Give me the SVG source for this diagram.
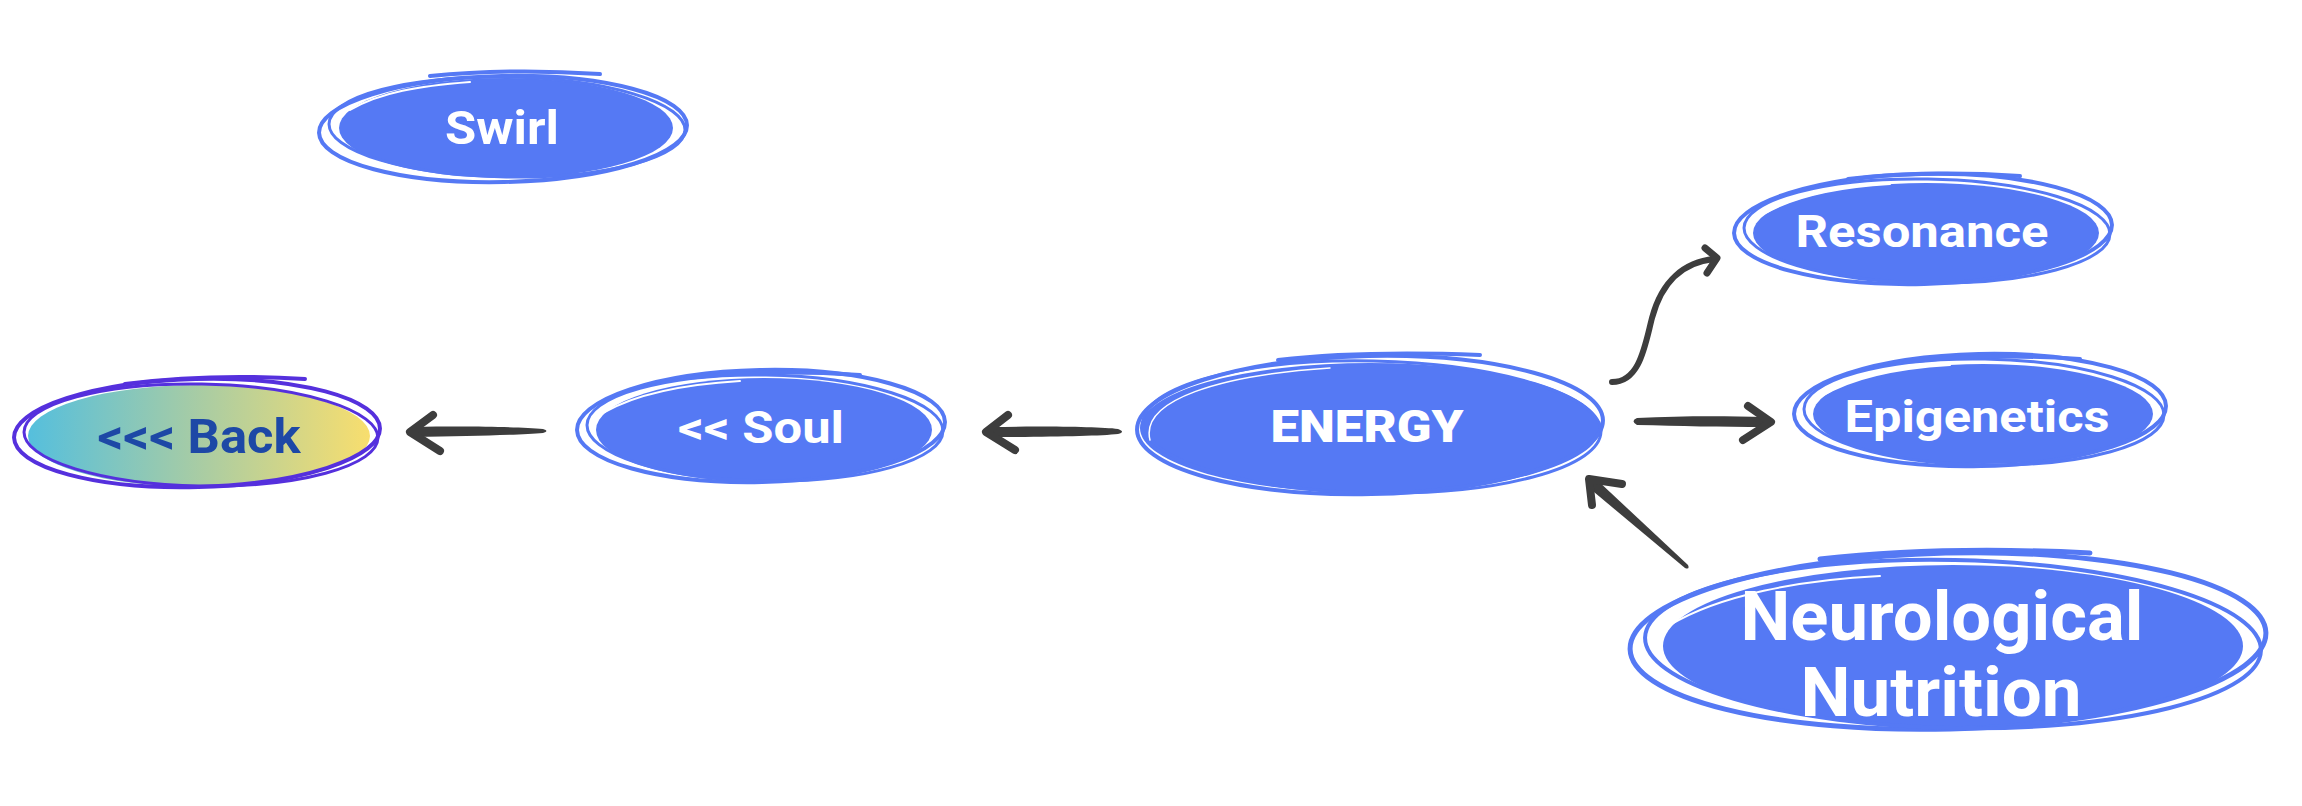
<svg xmlns="http://www.w3.org/2000/svg" width="2302" height="806" viewBox="0 0 2302 806">
<defs>
<linearGradient id="backGrad" x1="0" y1="0" x2="1" y2="0">
<stop offset="0" stop-color="#55bfdd"/>
<stop offset="0.5" stop-color="#a8cca4"/>
<stop offset="1" stop-color="#f8de6e"/>
</linearGradient>
<style>
.fill{fill:#5579f4}
.sk{fill:none;stroke:#5579f4;stroke-width:4;stroke-linecap:round}
.sk2{fill:none;stroke:#5579f4;stroke-width:3;stroke-linecap:round}
.wl{fill:none;stroke:#ffffff;stroke-width:2;stroke-linecap:round}
.bsk{fill:none;stroke:#5530dd;stroke-width:4;stroke-linecap:round}
.bsk2{fill:none;stroke:#5530dd;stroke-width:3;stroke-linecap:round}
.lbl{font-family:Roboto,"Noto Sans",sans-serif;font-weight:700;fill:#ffffff;text-anchor:middle}
.shaft{fill:#3d3d3d}
.head{fill:none;stroke:#3d3d3d;stroke-width:8;stroke-linecap:round;stroke-linejoin:round}
.curve{fill:none;stroke:#3d3d3d;stroke-width:6;stroke-linecap:round}
</style>
</defs>
<rect width="2302" height="806" fill="#ffffff"/>

<g id="connectors">
<!-- Soul -> Back -->
<path class="shaft" d="M414,427 C470,426 520,427 543,429 Q550,431 543,433 C520,435 470,436 414,437 Z"/>
<polyline class="head" points="433,415 410,432 440,451"/>
<!-- ENERGY -> Soul -->
<path class="shaft" d="M990,427 C1050,426 1100,427 1118,429 Q1126,432 1118,434 C1100,436 1050,437 990,437 Z"/>
<polyline class="head" points="1008,415 986,432 1015,450"/>
<!-- ENERGY -> Resonance -->
<path class="curve" d="M1612,382 C1640,382 1645,345 1652,318 C1662,280 1685,262 1714,259"/>
<polyline class="head" points="1705,248 1717,258 1707,273" style="stroke-width:7"/>
<!-- ENERGY -> Epigenetics -->
<path class="shaft" d="M1637,418 C1680,416 1720,416 1766,417 L1766,427 C1720,427 1680,426 1637,425 Q1630,421 1637,418 Z"/>
<polyline class="head" points="1748,406 1771,422 1743,440"/>
<!-- Neurological Nutrition -> ENERGY -->
<path class="shaft" d="M1596,479 L1688,565 Q1690,570 1685,568 L1588,487 Z"/>
<polyline class="head" points="1622,484 1589,479 1592,505"/>
</g>

<g id="node-swirl">
<ellipse class="fill" cx="506" cy="128" rx="167" ry="50"/>
<ellipse class="sk" cx="503" cy="129" rx="184" ry="53" transform="rotate(-1.2 503 129)"/>
<ellipse class="sk2" cx="507" cy="127" rx="178" ry="50" transform="rotate(1 507 127)"/>
<path class="sk" d="M430,76 C480,71 540,70 600,74"/>
<path class="wl" d="M350,110 C380,92 420,86 470,82"/>
<text class="lbl" x="502" y="144" font-size="46" textLength="114" lengthAdjust="spacingAndGlyphs">Swirl</text>
</g>

<g id="node-back">
<ellipse cx="199" cy="436" rx="171" ry="51" fill="url(#backGrad)"/>
<ellipse class="bsk" cx="197" cy="433" rx="183" ry="54" transform="rotate(-1.5 197 433)"/>
<ellipse class="bsk2" cx="201" cy="435" rx="177" ry="51" transform="rotate(1 201 435)"/>
<path class="bsk" d="M125,384 C180,377 240,375 305,379"/>
<text class="lbl" x="199" y="453" font-size="49" textLength="203" lengthAdjust="spacingAndGlyphs" style="fill:#1d48a6">&lt;&lt;&lt; Back</text>
</g>

<g id="node-soul">
<ellipse class="fill" cx="764" cy="430" rx="168" ry="52"/>
<ellipse class="sk" cx="761" cy="426" rx="184" ry="56" transform="rotate(-1.3 761 426)"/>
<ellipse class="sk2" cx="765" cy="428" rx="178" ry="53" transform="rotate(1 765 428)"/>
<path class="sk" d="M688,378 C740,372 800,371 860,375"/>
<path class="wl" d="M605,412 C640,392 690,384 740,381"/>
<text class="lbl" x="761" y="443" font-size="45" textLength="166" lengthAdjust="spacingAndGlyphs">&lt;&lt; Soul</text>
</g>

<g id="node-energy">
<ellipse class="fill" cx="1370" cy="428" rx="230" ry="65"/>
<ellipse class="sk" cx="1370" cy="425" rx="233" ry="69" transform="rotate(-1.2 1370 425)"/>
<ellipse class="sk2" cx="1372" cy="427" rx="229" ry="66" transform="rotate(1.2 1372 427)"/>
<path class="sk" d="M1278,360 C1330,354 1400,352 1480,355"/>
<path class="wl" d="M1150,440 C1140,400 1220,375 1330,368" style="stroke-width:1.5"/>
<text class="lbl" x="1367" y="442" font-size="45" textLength="193" lengthAdjust="spacingAndGlyphs" style="font-weight:900">ENERGY</text>
</g>

<g id="node-resonance">
<ellipse class="fill" cx="1926" cy="233" rx="173" ry="50"/>
<ellipse class="sk" cx="1923" cy="229" rx="189" ry="55" transform="rotate(-1.3 1923 229)"/>
<ellipse class="sk2" cx="1927" cy="231" rx="183" ry="52" transform="rotate(1 1927 231)"/>
<path class="sk" d="M1848,179 C1900,173 1960,172 2020,176"/>
<path class="wl" d="M1762,215 C1795,195 1840,187 1890,184"/>
<text class="lbl" x="1922" y="247" font-size="44" textLength="253" lengthAdjust="spacingAndGlyphs">Resonance</text>
</g>

<g id="node-epigenetics">
<ellipse class="fill" cx="1983" cy="414" rx="170" ry="50"/>
<ellipse class="sk" cx="1980" cy="410" rx="186" ry="56" transform="rotate(-1.3 1980 410)"/>
<ellipse class="sk2" cx="1984" cy="412" rx="180" ry="53" transform="rotate(1 1984 412)"/>
<path class="sk" d="M1905,362 C1960,356 2020,355 2080,359"/>
<path class="wl" d="M1822,396 C1855,376 1900,368 1950,365"/>
<text class="lbl" x="1977" y="432" font-size="45" textLength="265" lengthAdjust="spacingAndGlyphs">Epigenetics</text>
</g>

<g id="node-neuro">
<ellipse class="fill" cx="1953" cy="646" rx="290" ry="81"/>
<ellipse class="sk" cx="1948" cy="641" rx="318" ry="88" transform="rotate(-1.5 1948 641)" style="stroke-width:5"/>
<ellipse class="sk2" cx="1953" cy="644" rx="308" ry="84" transform="rotate(1.2 1953 644)" style="stroke-width:4"/>
<path class="sk" d="M1820,559 C1900,550 1990,548 2090,553" style="stroke-width:5"/>
<path class="wl" d="M1670,625 C1720,595 1800,580 1880,576"/>
<text class="lbl" x="1942" y="640" font-size="68" textLength="403" lengthAdjust="spacingAndGlyphs" style="font-weight:700">Neurological</text>
<text class="lbl" x="1941" y="716" font-size="68" textLength="281" lengthAdjust="spacingAndGlyphs" style="font-weight:700">Nutrition</text>
</g>
</svg>
